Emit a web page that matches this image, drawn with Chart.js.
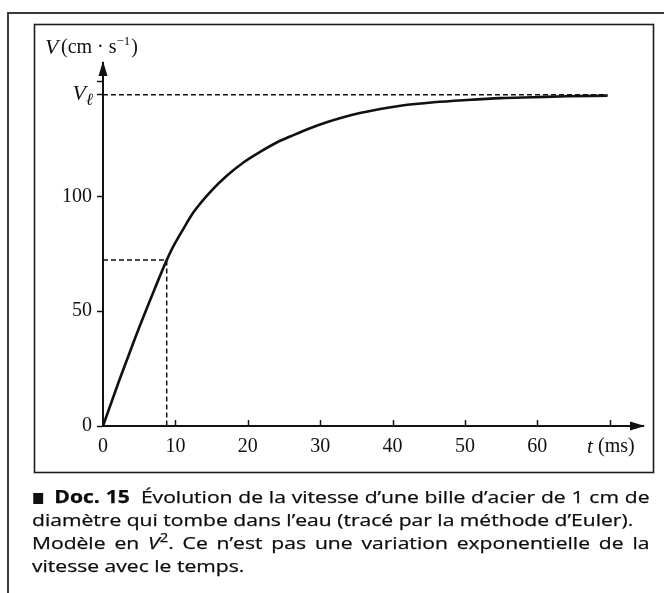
<!DOCTYPE html>
<html lang="fr">
<head>
<meta charset="utf-8">
<title>Doc. 15 — vitesse d'une bille d'acier</title>
<script src="https://cdn.jsdelivr.net/npm/chart.js@4.4.1/dist/chart.umd.min.js"></script>
<style>
  html, body { margin: 0; padding: 0; background: #fff; }
  #wrap { position: relative; width: 664px; height: 593px; overflow: hidden; background: #fff; }
  #chart { position: absolute; left: 0; top: 0; }
  /* the caption face runs wide, so the block is stretched horizontally */
  .caption {
    position: absolute; left: 32px; top: 485px; width: 498px;
    transform: scaleX(1.24); transform-origin: 0 0;
    font-family: "Open Sans", "Noto Sans", sans-serif; font-size: 17px; line-height: 23px; color: #0c0c0c;
    -webkit-text-stroke: 0.25px #0c0c0c;
  }
  .caption .ln { text-align: justify; text-align-last: justify; white-space: normal; }
  .caption .ln.free { text-align: left; text-align-last: left; }
  .caption b { font-weight: 700; }
  .caption .sq { display: inline-block; width: 8px; height: 11px; background: #111; margin: 0 9px 0 1px; vertical-align: -1px; }
  .caption .doc { margin-right: 9px; }
  .caption sup { font-size: 12px; line-height: 0; vertical-align: 7px; }
</style>
</head>
<body>
<div id="wrap">
  <canvas id="chart" width="664" height="593"></canvas>
  <div class="caption">
    <div class="ln"><span class="sq"></span><b class="doc">Doc. 15</b>Évolution de la vitesse d’une bille d’acier de 1 cm de</div>
    <div class="ln free">diamètre qui tombe dans l’eau (tracé par la méthode d’Euler).</div>
    <div class="ln">Modèle en <i>V</i><sup>2</sup>. Ce n’est pas une variation exponentielle de la</div>
    <div class="ln free">vitesse avec le temps.</div>
  </div>
</div>
<script>
// time (ms) and speed (cm/s)
const tMs = [0, 2.2, 4.4, 6.6, 8.8, 9.5, 11.1, 12.5, 14.8, 17.1, 19.4, 21.7, 24.0, 26.3, 28.6, 30.9, 33.2, 35.5, 38.3, 41.1, 45.7, 50.3, 54.9, 59.5, 64.1, 69.7];
const speed = [0, 19.5, 38.0, 55.5, 72.2, 76.9, 85.8, 93.0, 101.8, 108.9, 114.7, 119.3, 123.4, 126.6, 129.6, 132.2, 134.4, 136.2, 138.0, 139.4, 140.9, 141.9, 142.7, 143.1, 143.5, 143.8];

// limit speed and the half-way point marked with dashes
const vLimit = 144.2;
const halfPoint = { t: 8.8, v: 72.2 };

const xTickValues = [0, 10, 20, 30, 40, 50, 60, 70];
const xTickLabels = ['0', '10', '20', '30', '40', '50', '60', ''];
const yTickValues = [0, 50, 100, vLimit, 150];
const yTickLabels = ['0', '50', '100', '', ''];

const INK = '#111';
const SERIF = '"Liberation Serif", "DejaVu Serif", serif';

// outer page rule and the inner figure box
const figureFrame = {
  id: 'figureFrame',
  beforeDraw(chart) {
    const c = chart.ctx;
    c.save();
    c.strokeStyle = '#3a3a3a';
    c.lineWidth = 2;
    c.beginPath();
    c.moveTo(8, 593); c.lineTo(8, 13); c.lineTo(664, 13);
    c.stroke();
    c.strokeStyle = '#1c1c1c';
    c.lineWidth = 1.6;
    c.strokeRect(34.5, 24.5, 619, 448);
    c.restore();
  }
};

// arrow heads, inward x ticks, V_l label and axis titles
const axisDecor = {
  id: 'axisDecor',
  afterDraw(chart) {
    const { ctx: c, chartArea: a, scales: { x, y } } = chart;
    c.save();
    c.fillStyle = INK;
    c.strokeStyle = INK;

    c.beginPath();
    c.moveTo(a.left, a.top - 2);
    c.lineTo(a.left - 4.5, a.top + 13);
    c.lineTo(a.left + 4.5, a.top + 13);
    c.closePath(); c.fill();

    c.beginPath();
    c.moveTo(a.right + 2, a.bottom);
    c.lineTo(a.right - 13, a.bottom - 4.5);
    c.lineTo(a.right - 13, a.bottom + 4.5);
    c.closePath(); c.fill();

    c.lineWidth = 1.5;
    x.ticks.forEach(tk => {
      if (tk.value === 0) return;
      const px = Math.round(x.getPixelForValue(tk.value)) + 0.5;
      c.beginPath(); c.moveTo(px, a.bottom); c.lineTo(px, a.bottom - 6); c.stroke();
    });

    c.textBaseline = 'middle';
    const vy = y.getPixelForValue(vLimit);
    c.textAlign = 'right';
    c.font = 'italic 17px ' + SERIF;
    c.fillText('ℓ', 93, vy + 6);
    c.font = 'italic 22px ' + SERIF;
    c.fillText('V', 86, vy);

    // V (cm·s^-1)
    c.textAlign = 'left';
    c.font = 'italic 22px ' + SERIF;
    c.fillText('V', 45, 48);
    c.font = '20px ' + SERIF;
    c.fillText('(cm · s', 61, 48);
    const w = c.measureText('(cm · s').width;
    c.font = '13px ' + SERIF;
    c.fillText('−1', 61 + w, 42);
    const w2 = c.measureText('−1').width;
    c.font = '20px ' + SERIF;
    c.fillText(')', 61 + w + w2 + 1, 48);

    // t (ms)
    c.font = 'italic 21px ' + SERIF;
    c.fillText('t', 587, 447);
    c.font = '20px ' + SERIF;
    c.fillText('(ms)', 598, 447);
    c.restore();
  }
};

const curve = tMs.map((t, i) => ({ x: t, y: speed[i] }));
const dash = { borderColor: INK, borderWidth: 1.5, borderDash: [5, 3], pointRadius: 0, showLine: true, fill: false };

new Chart(document.getElementById('chart'), {
  type: 'scatter',
  data: {
    datasets: [
      { ...dash, data: [{ x: 0, y: vLimit }, { x: tMs[tMs.length - 1], y: vLimit }] },
      { ...dash, data: [{ x: 0, y: halfPoint.v }, { x: halfPoint.t, y: halfPoint.v }, { x: halfPoint.t, y: 0 }] },
      {
        data: curve, showLine: true, borderColor: INK, borderWidth: 2.6, pointRadius: 0,
        cubicInterpolationMode: 'monotone', fill: false
      }
    ]
  },
  options: {
    responsive: false,
    animation: false,
    devicePixelRatio: 1,
    layout: { padding: { left: 43, top: 63, right: 21, bottom: 137 } },
    plugins: { legend: { display: false }, tooltip: { enabled: false }, title: { display: false } },
    scales: {
      x: {
        type: 'linear', min: 0, max: 74.6,
        afterBuildTicks: s => { s.ticks = xTickValues.map(v => ({ value: v })); },
        afterFit: s => { s.height = 30; },
        grid: { drawOnChartArea: false, drawTicks: false, color: INK },
        border: { display: true, color: INK, width: 2 },
        ticks: {
          autoSkip: false, maxRotation: 0, padding: 9, color: INK,
          font: { family: SERIF, size: 20 },
          callback: (v, i) => xTickLabels[i]
        }
      },
      y: {
        type: 'linear', min: 0, max: 158,
        afterBuildTicks: s => { s.ticks = yTickValues.map(v => ({ value: v })); },
        afterFit: s => { s.width = 60; },
        grid: { drawOnChartArea: false, drawTicks: true, tickLength: 6, tickWidth: 1.5, color: INK },
        border: { display: true, color: INK, width: 2 },
        ticks: {
          autoSkip: false, padding: 5, color: INK,
          font: { family: SERIF, size: 20 },
          callback: (v, i) => yTickLabels[i]
        }
      }
    }
  },
  plugins: [figureFrame, axisDecor]
});
</script>
</body>
</html>
